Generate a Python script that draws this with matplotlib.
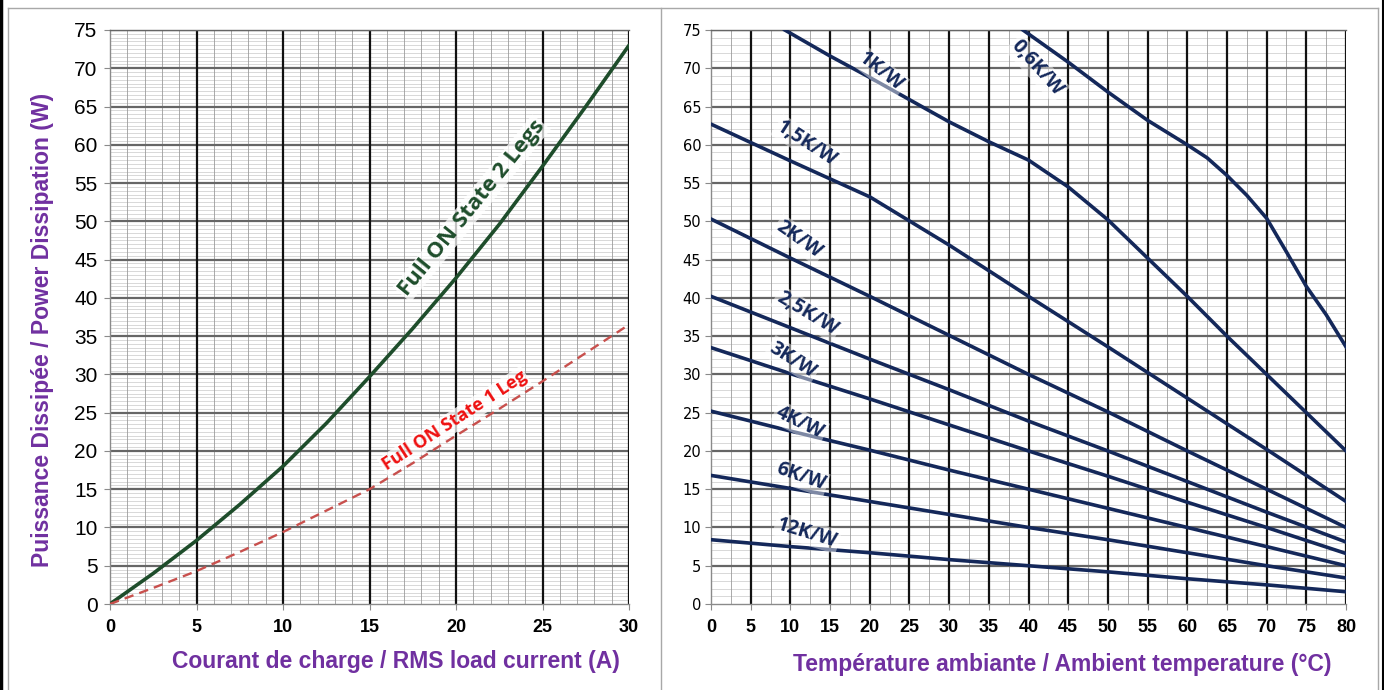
import numpy as np
import matplotlib
matplotlib.use("Agg")
import matplotlib.pyplot as plt
from matplotlib.ticker import MultipleLocator, NullFormatter
from matplotlib.lines import Line2D

# Left chart: dissipated power vs RMS load current
current = [0, 2.5, 5, 7.5, 10, 12.5, 15, 17.5, 20, 22.5, 25, 27.5, 30]
p_two_legs = [0, 4.0, 8.3, 13.0, 18.0, 23.6, 29.7, 36.0, 42.6, 49.6, 57.2, 65.0, 73.0]
p_one_leg = [0, 2.1, 4.3, 6.8, 9.4, 12.2, 15.0, 18.4, 22.0, 25.5, 29.1, 32.8, 36.5]

# Right chart: max power vs ambient temperature, one curve per heatsink Rth
temp_06 = [39.3, 45, 50, 55, 60, 62.5, 65, 67.5, 70, 72.5, 75, 77.5, 80]
p_06 = [75, 70.8, 66.9, 63.2, 60.0, 58.3, 56.0, 53.4, 50.4, 46.0, 41.5, 37.8, 33.6]
temp_1 = [9.3, 15, 20, 25, 30, 35, 40, 45, 50, 55, 60, 65, 70, 75, 80]
p_1 = [75, 71.6, 68.8, 65.9, 63.0, 60.4, 58.0, 54.5, 50.2, 45.2, 40.2, 35.0, 30.0, 25.0, 20.0]
temp = [0, 10, 20, 30, 40, 50, 60, 70, 80]
p_15 = [62.7, 57.9, 53.2, 46.9, 40.2, 33.6, 26.9, 20.2, 13.4]
p_2 = [50.3, 45.2, 40.2, 35.1, 30.0, 25.1, 20.0, 15.0, 10.0]
p_25 = [40.2, 36.1, 32.0, 28.0, 23.9, 20.0, 16.0, 12.0, 8.1]
p_3 = [33.5, 30.1, 26.8, 23.4, 20.0, 16.7, 13.3, 10.0, 6.6]
p_4 = [25.2, 22.6, 20.1, 17.5, 15.0, 12.5, 10.0, 7.5, 5.0]
p_6 = [16.8, 15.1, 13.4, 11.7, 10.0, 8.4, 6.7, 5.0, 3.4]
p_12 = [8.4, 7.5, 6.7, 5.8, 5.0, 4.2, 3.3, 2.5, 1.6]

rth_names = ["0,6K/W", "1K/W", "1,5K/W", "2K/W", "2,5K/W", "3K/W", "4K/W", "6K/W", "12K/W"]
rth_x = [temp_06, temp_1, temp, temp, temp, temp, temp, temp, temp]
rth_y = [p_06, p_1, p_15, p_2, p_25, p_3, p_4, p_6, p_12]
# label placement (x, y, angle)
rth_lab = [(41.1, 70.0, -48), (21.4, 69.5, -38), (12.1, 60.1, -33), (11.1, 47.6, -35),
           (12.1, 37.9, -31), (10.3, 31.9, -32), (11.2, 23.7, -26), (11.3, 16.6, -19),
           (12.1, 9.3, -17)]

purple = "#7030a0"
navy = "#14285a"
narrow = ["Liberation Sans Narrow", "Liberation Sans"]

W, H = 1384, 690
fig = plt.figure(figsize=(W / 100, H / 100), dpi=100)
fig.patch.set_facecolor("white")

ax1 = fig.add_axes([110 / W, 86 / H, 519 / W, 574 / H])
ax2 = fig.add_axes([711 / W, 86 / H, 635 / W, 574 / H])


def paper_grid(ax, xmax, xmaj, xmin, ymin):
    # graph-paper grid: fine lines first, heavy black verticals on top
    ax.hlines(np.arange(0, 75.01, ymin), 0, xmax, color="#d2d2d2", lw=0.6, zorder=0.6)
    ax.vlines(np.arange(0, xmax + 0.01, xmin), 0, 75, color="#9c9c9c", lw=0.6, zorder=0.7)
    ax.hlines(np.arange(5, 75.01, 5), 0, xmax, color="#666666", lw=1.6, zorder=0.8)
    ax.vlines(np.arange(xmaj, xmax + 0.01, xmaj), 0, 75, color="#111111", lw=1.6, zorder=0.9)
    ax.xaxis.set_major_locator(MultipleLocator(5))
    ax.yaxis.set_major_locator(MultipleLocator(5))
    for s in ax.spines.values():
        s.set_color("#8a8a8a")
        s.set_linewidth(1.0)
    ax.tick_params(which="major", direction="out", length=4, color="#8a8a8a")


# ---- left chart ----
paper_grid(ax1, 30, 5, 1, 0.5)
ax1.set_xlim(0, 30)
ax1.set_ylim(0, 75)
ax1.spines["right"].set_visible(False)
ax1.spines["top"].set_color("#666666")

ax1.plot(current, p_two_legs, color="#1e4d2b", lw=2.6, solid_capstyle="round", zorder=3)
ax1.plot(current, p_one_leg, color="#c8504d", lw=1.7, dashes=(4, 2.6), zorder=3)

ax1.text(20.9, 51.7, "Full ON State 2 Legs", rotation=51, rotation_mode="anchor",
         ha="center", va="center", color="#1e4d2b", fontsize=16, fontweight="bold",
         family="Open Sans", zorder=4,
         bbox=dict(facecolor="white", edgecolor="none", alpha=0.75, pad=1))
ax1.text(19.9, 23.9, "Full ON State 1 Leg", rotation=33, rotation_mode="anchor",
         ha="center", va="center", color="#ee1111", fontsize=13, fontweight="bold",
         family="Open Sans", zorder=4,
         bbox=dict(facecolor="white", edgecolor="none", alpha=0.75, pad=1))

ax1.tick_params(axis="y", labelsize=15, pad=5)
ax1.tick_params(axis="x", labelsize=13, pad=7)
plt.setp(ax1.get_yticklabels(), family="Liberation Sans")
plt.setp(ax1.get_xticklabels(), family=narrow, fontweight="bold")

ax1.set_xlabel("Courant de charge / RMS load current (A)", color=purple, fontsize=16.5,
               fontweight="bold", family="Liberation Sans")
ax1.xaxis.set_label_coords(0.551, -0.1)
ax1.xaxis.label.set_va("center")
ax1.set_ylabel("Puissance Dissipée / Power Dissipation (W)", color=purple, fontsize=16.5,
               fontweight="bold", family="Liberation Sans")
ax1.yaxis.set_label_coords(-0.131, 0.477)
ax1.yaxis.label.set_va("center")

# ---- right chart ----
paper_grid(ax2, 80, 5, 2.5, 1)
ax2.set_xlim(0, 80)
ax2.set_ylim(0, 75)
ax2.spines["right"].set_visible(False)
ax2.spines["top"].set_color("#666666")

for name, xs, ys, (lx, ly, ang) in zip(rth_names, rth_x, rth_y, rth_lab):
    ax2.plot(xs, ys, color=navy, lw=2.6, solid_joinstyle="round", zorder=3)
    ax2.text(lx, ly, name, rotation=ang, rotation_mode="anchor", ha="center", va="center",
             color=navy, fontsize=14, fontweight="bold", family="Open Sans", zorder=4,
             bbox=dict(facecolor="white", edgecolor="none", alpha=0.45, pad=1.5))

ax2.tick_params(axis="y", labelsize=10.5, pad=3)
ax2.tick_params(axis="x", labelsize=13, pad=7)
plt.setp(ax2.get_yticklabels(), family="DejaVu Sans")
plt.setp(ax2.get_xticklabels(), family=narrow, fontweight="bold")

ax2.set_xlabel("Température ambiante / Ambient temperature (°C)", color=purple, fontsize=16.5,
               fontweight="bold", family="Liberation Sans")
ax2.xaxis.set_label_coords(0.553, -0.106)
ax2.xaxis.label.set_va("center")

# ---- panel frames ----
def fline(x0, y0, x1, y1, color="#a8a8a8", lw=1.0):
    fig.add_artist(Line2D([x0 / W, x1 / W], [1 - y0 / H, 1 - y1 / H],
                          transform=fig.transFigure, color=color, lw=lw))

fline(1.5, 0, 1.5, H, color="black", lw=2.5)
fline(8, 8, 1378, 8)
fline(8, 8, 8, H)
fline(661, 8, 661, H)
fline(1378, 8, 1378, H)
fline(1383, 0, 1383, H, color="black", lw=1.5)

fig.savefig("out.png", dpi=100, facecolor="white")
